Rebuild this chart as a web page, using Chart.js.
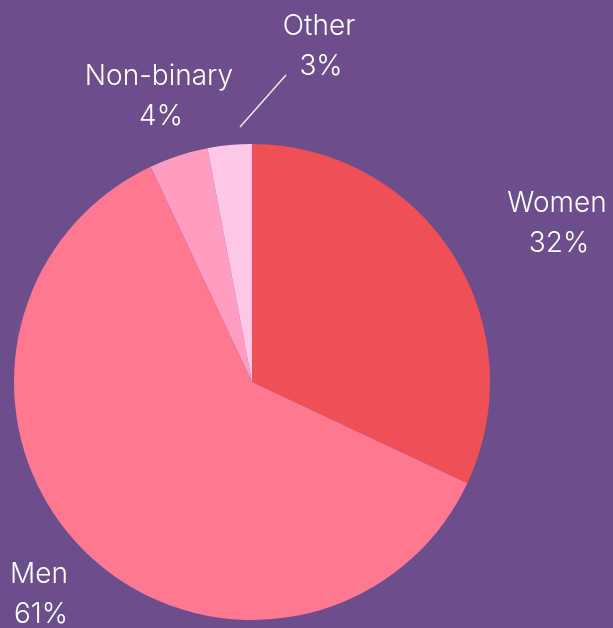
<!DOCTYPE html>
<html>
<head>
<meta charset="utf-8">
<script src="https://cdn.jsdelivr.net/npm/chart.js@4"></script>
<style>
  html, body { margin: 0; padding: 0; background: #6c4e8c; }
  #wrap { width: 613px; height: 628px; position: relative; }
</style>
</head>
<body>
<div id="wrap"><canvas id="genderChart"></canvas></div>
<script>
// chart data
var categories = ['Women', 'Men', 'Non-binary', 'Other'];
var shares = [32, 61, 4, 3];
var sliceColors = ['#ef5056', '#ff7790', '#ff9cc0', '#ffc6e8'];

// label anchors (offset from pie centre, first baseline) - placed by hand like the original
var labelSpots = {
    'Women': { dx: 305, dy: -170, align: 'center' },
    'Men': { dx: -213, dy: 201, align: 'center' },
    'Non-binary': { dx: -93, dy: -297, align: 'center' },
    'Other': { dx: 67, dy: -347, align: 'center', leader: [[-12, -255], [34, -307]] }
};

var pieLabels = {
    id: 'pieLabels',
    afterDatasetsDraw: function (chart) {
        var ctx = chart.ctx;
        var meta = chart.getDatasetMeta(0);
        var arc = meta.data[0];
        var cx = arc.x, cy = arc.y;
        ctx.save();
        ctx.fillStyle = '#ffffff';
        ctx.font = '300 28px Inter, "Open Sans", sans-serif';
        ctx.textBaseline = 'alphabetic';
        categories.forEach(function (name, i) {
            var spot = labelSpots[name];
            ctx.textAlign = spot.align;
            ctx.fillText(name, cx + spot.dx, cy + spot.dy);
            ctx.fillText(shares[i] + '%', cx + spot.dx + 2, cy + spot.dy + 40);
            if (spot.leader) {
                ctx.strokeStyle = '#f3e9e6';
                ctx.lineWidth = 1.5;
                ctx.beginPath();
                ctx.moveTo(cx + spot.leader[0][0], cy + spot.leader[0][1]);
                ctx.lineTo(cx + spot.leader[1][0], cy + spot.leader[1][1]);
                ctx.stroke();
            }
        });
        ctx.restore();
    }
};

new Chart(document.getElementById('genderChart').getContext('2d'), {
    type: 'pie',
    data: {
        labels: categories,
        datasets: [{
            data: shares,
            backgroundColor: sliceColors,
            borderWidth: 0
        }]
    },
    options: {
        responsive: true,
        maintainAspectRatio: false,
        animation: false,
        layout: { padding: { left: 14, right: 123, top: 144, bottom: 8 } },
        plugins: {
            legend: { display: false },
            tooltip: { enabled: false }
        }
    },
    plugins: [pieLabels]
});
</script>
</body>
</html>
